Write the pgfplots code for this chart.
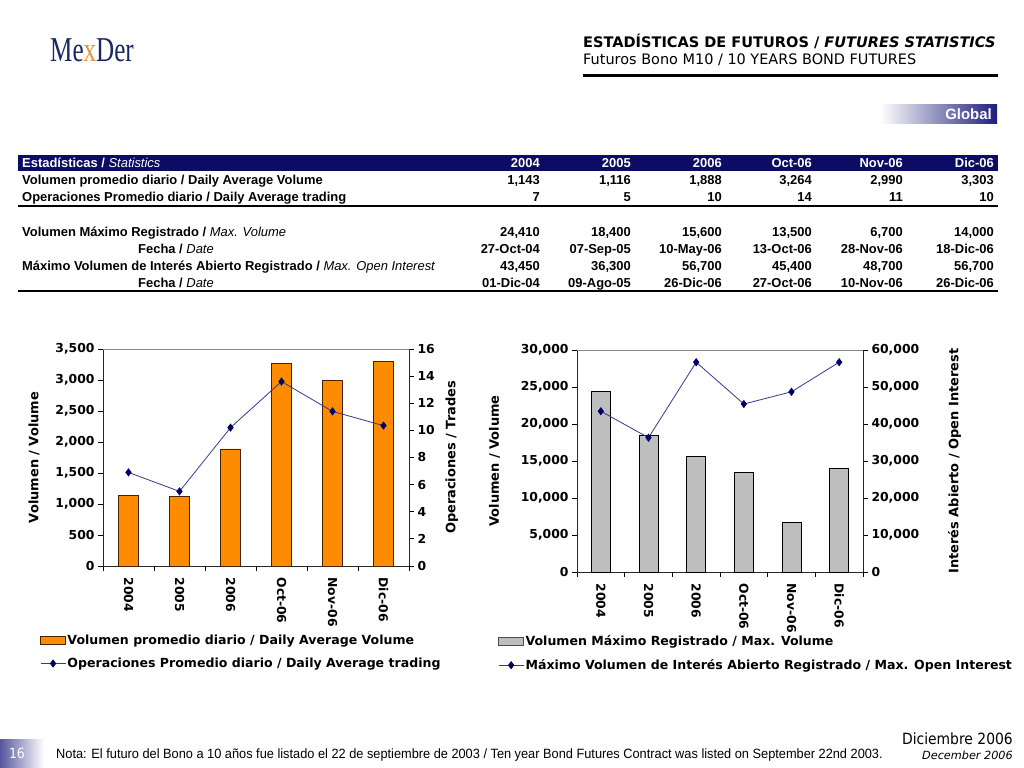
\documentclass[border=0pt]{standalone}
\usepackage{fontspec}
\usepackage{pgfplots}
\pgfplotsset{compat=1.18}
\setmainfont{Liberation Sans}
\newfontfamily\ver{DejaVu Sans}
\newfontfamily\tah[FakeStretch=0.9]{DejaVu Sans}
\newfontfamily\narrow[FakeStretch=0.95]{Liberation Sans}
\newfontfamily\logofont[FakeStretch=0.72]{Liberation Serif}

\definecolor{navyhdr}{RGB}{12,12,100}
\definecolor{tabnavy}{RGB}{30,30,125}
\definecolor{barorange}{RGB}{255,140,0}
\definecolor{barbrown}{RGB}{70,35,0}
\definecolor{bargray}{RGB}{190,190,190}
\definecolor{linecol}{RGB}{55,55,145}
\definecolor{markcol}{RGB}{0,0,100}
\definecolor{logonavy}{RGB}{25,40,100}
\definecolor{logoorange}{RGB}{225,150,60}

\newcommand\tickfont{\ver\bfseries\fontsize{12.4}{13}\selectfont}
\newcommand\labfont{\ver\bfseries\fontsize{13}{14}\selectfont}
\newcommand\legfont{\ver\bfseries\fontsize{12.6}{14}\selectfont}

% one table row of six right-aligned cells, #1 = baseline in px from top
\newcommand\cells[7]{%
  \node[num] at (540,{768-#1}) {#2};
  \node[num] at (631,{768-#1}) {#3};
  \node[num] at (722,{768-#1}) {#4};
  \node[num] at (812,{768-#1}) {#5};
  \node[num] at (903,{768-#1}) {#6};
  \node[num] at (994,{768-#1}) {#7};}

\pgfplotsset{
  chart/.style={
    scale only axis, anchor=south west,
    xmin=-0.5, xmax=5.5,
    tick align=outside, major tick length=5bp, minor tick length=5bp,
    tick style={black, line width=0.9bp},
    axis line style={black!85, line width=0.9bp},
    y tick label style={font=\tickfont},
    label style={font=\labfont},
    /pgf/number format/assume math mode=true,
    scaled y ticks=false,
    clip=false,
  },
  barside/.style={chart,
    axis x line*=bottom, axis y line*=left,
    xtick={0,...,5}, xticklabels={2004,2005,2006,Oct-06,Nov-06,Dic-06},
    major x tick style={draw=none},
    minor xtick={-0.5,0.5,...,5.5},
    x tick label style={rotate=-90, anchor=west, font=\tickfont, xshift=3bp},
    extra description/.code={\draw[black!45, line width=0.8bp] (rel axis cs:0,1) -- (rel axis cs:1,1);},
  },
  lineside/.style={chart,
    axis x line=none, axis y line*=right, xtick=\empty,
    legend cell align=left,
    legend style={draw=none, fill=none, inner sep=0pt, font=\legfont,
      row sep=9bp, nodes={inner sep=1.5bp}},
  },
  trend/.style={linecol, line width=0.8bp, mark=diamond*, mark size=3.5bp,
    mark options={fill=markcol, draw=markcol},
    legend image code/.code={\draw[mark repeat=2, mark phase=2, ##1]
      plot coordinates {(0bp,0bp) (12.5bp,0bp) (25bp,0bp)};}},
}

\begin{document}
\begin{tikzpicture}[x=1bp, y=1bp]
\useasboundingbox (0,0) rectangle (1024,768);
\fill[white] (0,0) rectangle (1024,768);

% logo
\node[anchor=base west, inner sep=0, text=logonavy,
  font=\logofont\fontsize{35}{35}\selectfont] at (50,{768-62})
  {Me\textcolor{logoorange}{x}Der};

% title block
\node[anchor=base west, inner sep=0, font=\ver\bfseries\fontsize{14.6}{16}\selectfont]
  at (583,{768-48}) {ESTADÍSTICAS DE FUTUROS / \textit{FUTURES STATISTICS}};
\node[anchor=base west, inner sep=0, font=\ver\fontsize{14.5}{16}\selectfont]
  at (583,{768-65}) {Futuros Bono M10 / 10 YEARS BOND FUTURES};
\draw[line width=3bp] (583,{768-76}) -- (998,{768-76});

% Global tab
\shade[left color=white, right color=tabnavy] (880,{768-124}) rectangle (997,{768-105});
\node[anchor=base east, inner sep=0, text=white, font=\bfseries\fontsize{15}{15}\selectfont]
  at (992,{768-120}) {Global};

% statistics table
\fill[navyhdr] (18,{768-171}) rectangle (998,{768-155});
\begin{scope}[every node/.style={inner sep=0, font=\bfseries\fontsize{13}{15}\selectfont},
  num/.style={anchor=base east}]
  \node[anchor=base west, text=white] at (22,{768-167.6}) {Estadísticas / {\mdseries\itshape Statistics}};
  \begin{scope}[every node/.append style={text=white}]
    \cells{167.6}{2004}{2005}{2006}{Oct-06}{Nov-06}{Dic-06}
  \end{scope}
  \node[anchor=base west] at (22,{768-184.6}) {Volumen promedio diario / Daily Average Volume};
  \cells{184.6}{1,143}{1,116}{1,888}{3,264}{2,990}{3,303}
  \node[anchor=base west] at (22,{768-201.6}) {Operaciones Promedio diario / Daily Average trading};
  \cells{201.6}{7}{5}{10}{14}{11}{10}
  \node[anchor=base west] at (22,{768-236.6}) {Volumen Máximo Registrado / {\mdseries\itshape Max. Volume}};
  \cells{236.6}{24,410}{18,400}{15,600}{13,500}{6,700}{14,000}
  \node[anchor=base west] at (138,{768-253.6}) {Fecha / {\mdseries\itshape Date}};
  \cells{253.6}{27-Oct-04}{07-Sep-05}{10-May-06}{13-Oct-06}{28-Nov-06}{18-Dic-06}
  \node[anchor=base west] at (22,{768-270.6}) {Máximo Volumen de Interés Abierto Registrado / {\mdseries\itshape Max. Open Interest}};
  \cells{270.6}{43,450}{36,300}{56,700}{45,400}{48,700}{56,700}
  \node[anchor=base west] at (138,{768-287.6}) {Fecha / {\mdseries\itshape Date}};
  \cells{287.6}{01-Dic-04}{09-Ago-05}{26-Dic-06}{27-Oct-06}{10-Nov-06}{26-Dic-06}
\end{scope}
\draw[line width=1.8bp] (18,{768-206}) -- (998,{768-206});
\draw[line width=1.8bp] (18,{768-291}) -- (998,{768-291});

% left chart: daily average volume and trades
\begin{axis}[barside, at={(103bp,202bp)}, width=306bp, height=217bp,
  ymin=0, ymax=3500, ytick={0,500,...,3500},
  ylabel={Volumen / Volume}, ylabel style={yshift=9bp}]
\addplot[ybar, bar width=20bp, fill=barorange, draw=barbrown, line width=0.8bp]
  coordinates {(0,1143) (1,1116) (2,1888) (3,3264) (4,2990) (5,3303)};
\end{axis}
\begin{axis}[lineside, at={(103bp,202bp)}, width=306bp, height=217bp,
  ymin=0, ymax=16, ytick={0,2,...,16},
  ylabel={Operaciones / Trades}, ylabel style={yshift=-4bp},
  legend style={at={(-0.206,-0.31)}, anchor=north west}]
\addlegendimage{legend image code/.code={\draw[fill=barorange, draw=barbrown, line width=0.8bp]
  (0bp,-4bp) rectangle (25bp,4bp);}}
\addlegendentry{Volumen promedio diario / Daily Average Volume}
\addplot[trend] coordinates {(0,6.9) (1,5.5) (2,10.2) (3,13.6) (4,11.4) (5,10.35)};
\addlegendentry{Operaciones Promedio diario / Daily Average trading}
\end{axis}

% right chart: max volume and max open interest
\begin{axis}[barside, at={(577bp,196bp)}, width=286bp, height=222bp,
  ymin=0, ymax=30000, ytick={0,5000,...,30000},
  ylabel={Volumen / Volume}, ylabel style={yshift=14bp}]
\addplot[ybar, bar width=19bp, fill=bargray, draw=black, line width=0.8bp]
  coordinates {(0,24410) (1,18400) (2,15600) (3,13500) (4,6700) (5,14000)};
\end{axis}
\begin{axis}[lineside, at={(577bp,196bp)}, width=286bp, height=222bp,
  ymin=0, ymax=60000, ytick={0,10000,...,60000},
  ylabel={Interés Abierto / Open Interest},
  ylabel style={yshift=-22bp},
  legend style={at={(-0.276,-0.28)}, anchor=north west}]
\addlegendimage{legend image code/.code={\draw[fill=bargray, draw=black!70, line width=0.8bp]
  (0bp,-4bp) rectangle (25bp,4bp);}}
\addlegendentry{Volumen Máximo Registrado / Max. Volume}
\addplot[trend] coordinates {(0,43450) (1,36300) (2,56700) (3,45400) (4,48700) (5,56700)};
\addlegendentry{Máximo Volumen de Interés Abierto Registrado / Max. Open Interest}
\end{axis}

% footer
\shade[left color=tabnavy!75, right color=white] (0,0) rectangle (44,28);
\node[text=white, inner sep=0, font=\tah\fontsize{14}{14}\selectfont] at (17,{768-753}) {16};
\node[anchor=base west, inner sep=0, font=\narrow\fontsize{13.5}{15}\selectfont]
  at (56,{768-759}) {Nota: El futuro del Bono a 10 años fue listado el 22 de septiembre de 2003 / Ten year Bond Futures Contract was listed on September 22nd 2003.};
\node[anchor=base east, inner sep=0, font=\tah\fontsize{15.5}{16}\selectfont]
  at (1013,{768-745}) {Diciembre 2006};
\node[anchor=base east, inner sep=0, font=\ver\itshape\fontsize{11.3}{12}\selectfont]
  at (1013,{768-760}) {December 2006};
\end{tikzpicture}
\end{document}
